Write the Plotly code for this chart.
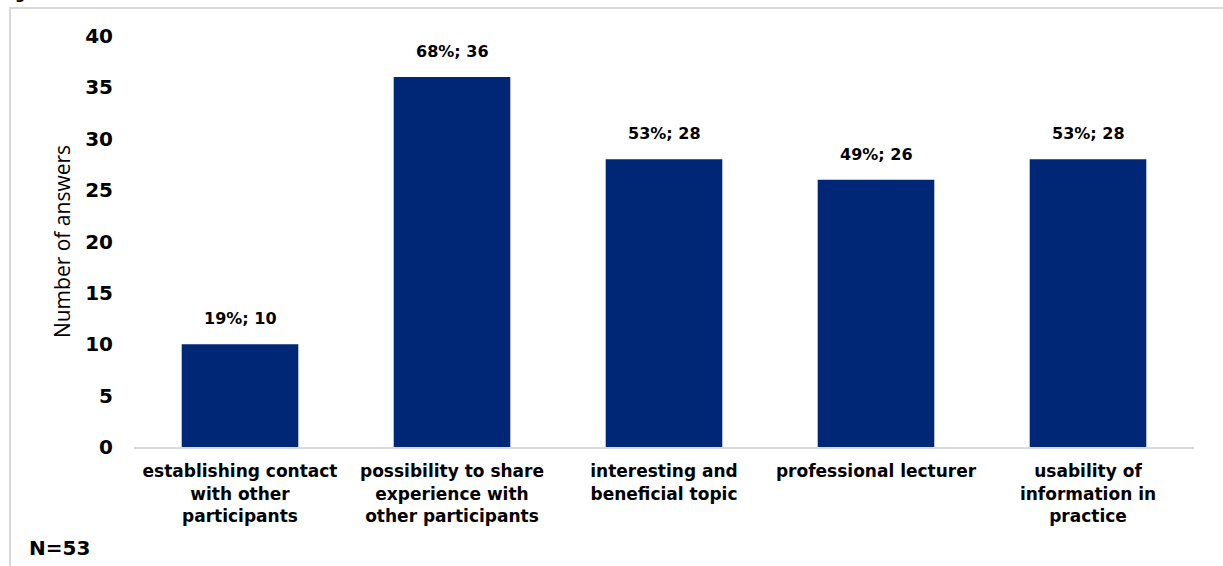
import plotly.graph_objects as go

categories = [
    "establishing contact<br>with other<br>participants",
    "possibility to share<br>experience with<br>other participants",
    "interesting and<br>beneficial topic",
    "professional lecturer",
    "usability of<br>information in<br>practice",
]
counts = [10, 36, 28, 26, 28]
percents = [19, 68, 53, 49, 53]
y_ticks = [0, 5, 10, 15, 20, 25, 30, 35, 40]

FONT = "DejaVu Sans, Verdana, sans-serif"
BAR = "#002776"

fig = go.Figure()
fig.add_trace(go.Bar(
    x=list(range(len(categories))),
    y=counts,
    marker=dict(color=BAR, line=dict(width=0)),
    width=0.55,
    hoverinfo="skip",
))

for i, (c, p) in enumerate(zip(counts, percents)):
    fig.add_annotation(
        x=i, y=c, xref="x", yref="y",
        text=f"<b>{p}%; {c}</b>",
        showarrow=False, yanchor="bottom", yshift=14,
        font=dict(family=FONT, size=16, color="#000000"),
    )

W, H = 1223, 566
L, R, T, B = 134, 29, 36, 119
pw, ph = W - L - R, H - T - B

def px_x(px):
    return (px - L) / pw

def px_y(py):
    return (H - B - py) / ph

# outer frame
fig.add_shape(type="rect", xref="paper", yref="paper",
              x0=px_x(10), x1=px_x(1240), y0=px_y(600), y1=px_y(8),
              line=dict(color="#d9d9d9", width=2), fillcolor="rgba(0,0,0,0)", layer="below")

# cropped caption at the very top
fig.add_annotation(
    xref="paper", yref="paper", x=px_x(0), y=px_y(4),
    xanchor="left", yanchor="bottom",
    text="<b><i>Figure 23 A: Graduate Teacher – The main benefits of the seminar</i></b>",
    showarrow=False, font=dict(family=FONT, size=14, color="#000000"),
)

fig.add_annotation(
    xref="paper", yref="paper", x=px_x(27), y=px_y(548),
    xanchor="left", yanchor="middle",
    text="<b>N=53</b>", showarrow=False,
    font=dict(family=FONT, size=20, color="#000000"),
)

fig.update_layout(
    width=W, height=H,
    margin=dict(l=L, r=R, t=T, b=B, pad=0),
    paper_bgcolor="white", plot_bgcolor="white",
    showlegend=False,
    bargap=0.45,
    xaxis=dict(
        tickmode="array",
        tickvals=list(range(len(categories))),
        ticktext=[f"<b>{c}</b>" for c in categories],
        range=[-0.5, len(categories) - 0.5],
        showgrid=False, zeroline=False,
        showline=True, linecolor="#d9d9d9", linewidth=2,
        ticks="", tickfont=dict(family=FONT, size=17, color="#000000"),
        ticklabelstandoff=8,
    ),
    yaxis=dict(
        range=[0, 40],
        tickmode="array", tickvals=y_ticks,
        ticktext=[f"<b>{v}</b>" for v in y_ticks],
        showgrid=False, zeroline=False, showline=False,
        ticks="", tickfont=dict(family=FONT, size=20, color="#000000"),
        ticklabelstandoff=20,
        title=dict(text="Number of answers", standoff=8,
                   font=dict(family="Open Sans, Noto Sans, sans-serif", size=21, color="#000000")),
    ),
)

fig.write_html("out.html")
